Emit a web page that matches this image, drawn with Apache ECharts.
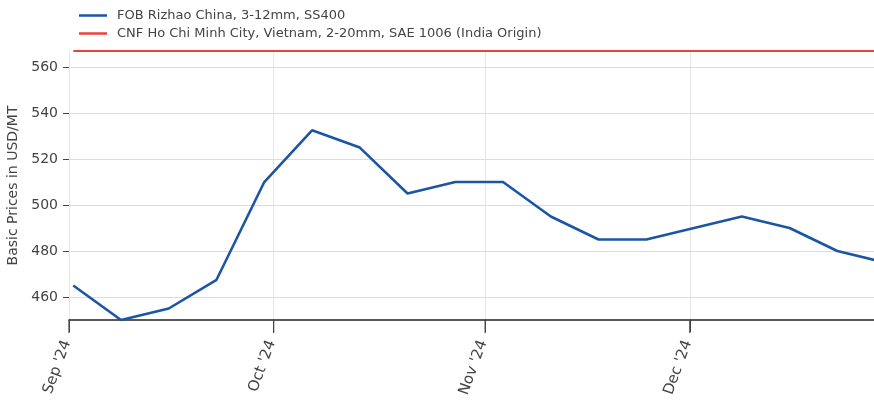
<!DOCTYPE html>
<html>
<head>
<meta charset="utf-8">
<script src="https://cdn.jsdelivr.net/npm/echarts@6/dist/echarts.min.js"></script>
<style>
html,body{margin:0;padding:0;background:#fff;}
#chart{width:874px;height:403px;}
</style>
</head>
<body>
<div id="chart"></div>
<script>
// Weekly observation dates
const dates = [
  '2024-09-01 15:00','2024-09-08 15:00','2024-09-15 15:00','2024-09-22 15:00',
  '2024-09-29 15:00','2024-10-06 15:00','2024-10-13 15:00','2024-10-20 15:00',
  '2024-10-27 15:00','2024-11-03 15:00','2024-11-10 15:00','2024-11-17 15:00',
  '2024-11-24 15:00','2024-12-01 15:00','2024-12-08 15:00','2024-12-15 15:00',
  '2024-12-22 15:00','2024-12-29 15:00'
];
const seriesNames = [
  'FOB Rizhao China, 3-12mm, SS400',
  'CNF Ho Chi Minh City, Vietnam, 2-20mm, SAE 1006 (India Origin)'
];
const rizhao = [465, 450, 455, 467.5, 510, 532.5, 525, 505, 510, 510, 495, 485, 485, 490, 495, 490, 480, 475];
const hcmc   = [567, 567, 567, 567, 567, 567, 567, 567, 567, 567, 567, 567, 567, 567, 567, 567, 567, 567];
const yTicks = [460, 480, 500, 520, 540, 560];
const monthTicks = ['2024-09-01', '2024-10-01', '2024-11-01', '2024-12-01'];
const monthNames = ['Jan','Feb','Mar','Apr','May','Jun','Jul','Aug','Sep','Oct','Nov','Dec'];
const axisStart = '2024-09-01';
const axisEnd = '2024-12-28';
const yMin = 450, yMax = 567;

function parseUTC(s) {
  const [d, t] = s.split(' ');
  const [y, m, dd] = d.split('-').map(Number);
  let h = 0, mi = 0;
  if (t) { [h, mi] = t.split(':').map(Number); }
  return Date.UTC(y, m - 1, dd, h, mi);
}
const DAY = 86400000;
const t0 = parseUTC(axisStart);
const toDays = s => (parseUTC(s) - t0) / DAY;   // days since axis start
const xs = dates.map(toDays);
const monthVals = monthTicks.map(toDays);

const FONT = 'DejaVu Sans';
const chart = echarts.init(document.getElementById('chart'), null, {renderer: 'canvas'});
chart.setOption({
  animation: false,
  textStyle: {fontFamily: FONT},
  legend: {
    left: 74, top: 4, orient: 'vertical',
    icon: 'rect', itemWidth: 28, itemHeight: 2.5, itemGap: 5,
    textStyle: {fontFamily: FONT, fontSize: 13, color: '#444', padding: [0, 0, 0, 5]},
    data: seriesNames
  },
  grid: {left: 69, right: 0, top: 51, bottom: 83, containLabel: false, outerBoundsMode: 'none'},
  xAxis: {
    type: 'value', position: 'bottom',
    min: toDays(axisStart), max: toDays(axisEnd),
    axisLine: {show: true, lineStyle: {color: '#222', width: 1.5}},
    axisTick: {show: true, length: 12, lineStyle: {color: '#444', width: 1}, customValues: monthVals},
    axisLabel: {
      customValues: monthVals,
      rotate: 70, margin: 15, padding: [0, 6, 0, 0],
      fontFamily: FONT, fontSize: 15, color: '#444',
      formatter: function (v) {
        const d = new Date(t0 + v * DAY);
        return monthNames[d.getUTCMonth()] + " '" + String(d.getUTCFullYear()).slice(2);
      }
    },
    splitLine: {show: true, lineStyle: {color: '#e6e6e6', width: 1}}
  },
  yAxis: {
    type: 'value',
    min: yMin, max: yMax,
    name: 'Basic Prices in USD/MT',
    nameLocation: 'middle', nameGap: 41,
    nameTextStyle: {fontFamily: FONT, fontSize: 14, color: '#444'},
    axisLine: {show: false},
    axisTick: {show: true, length: 6, lineStyle: {color: '#444'}, customValues: yTicks},
    axisLabel: {customValues: yTicks, margin: 11, fontFamily: FONT, fontSize: 14, color: '#444'},
    splitLine: {show: true, lineStyle: {color: '#dcdcdc', width: 1.2}}
  },
  series: [
    {
      name: seriesNames[0], type: 'line', symbol: 'none',
      data: xs.map((x, i) => [x, rizhao[i]]),
      lineStyle: {color: '#1c55a5', width: 2.6}, itemStyle: {color: '#1c55a5'},
      clip: true, z: 3
    },
    {
      name: seriesNames[1], type: 'line', symbol: 'none',
      data: xs.map((x, i) => [x, hcmc[i]]),
      lineStyle: {color: '#e8423c', width: 2}, itemStyle: {color: '#e8423c'},
      clip: true, z: 2
    },
    {
      // month tick marks below the x axis line, placed through the axis scale
      name: 'monthTicks', type: 'custom', silent: true, clip: false, z: 5,
      data: monthVals.map(v => [v, yMin]),
      encode: {x: 0, y: 1},
      renderItem: function (params, api) {
        const p = api.coord([api.value(0), api.value(1)]);
        return {
          type: 'line',
          shape: {x1: p[0], y1: p[1], x2: p[0], y2: p[1] + 13},
          style: {stroke: '#444', lineWidth: 1.2}
        };
      }
    }
  ]
});
</script>
</body>
</html>
